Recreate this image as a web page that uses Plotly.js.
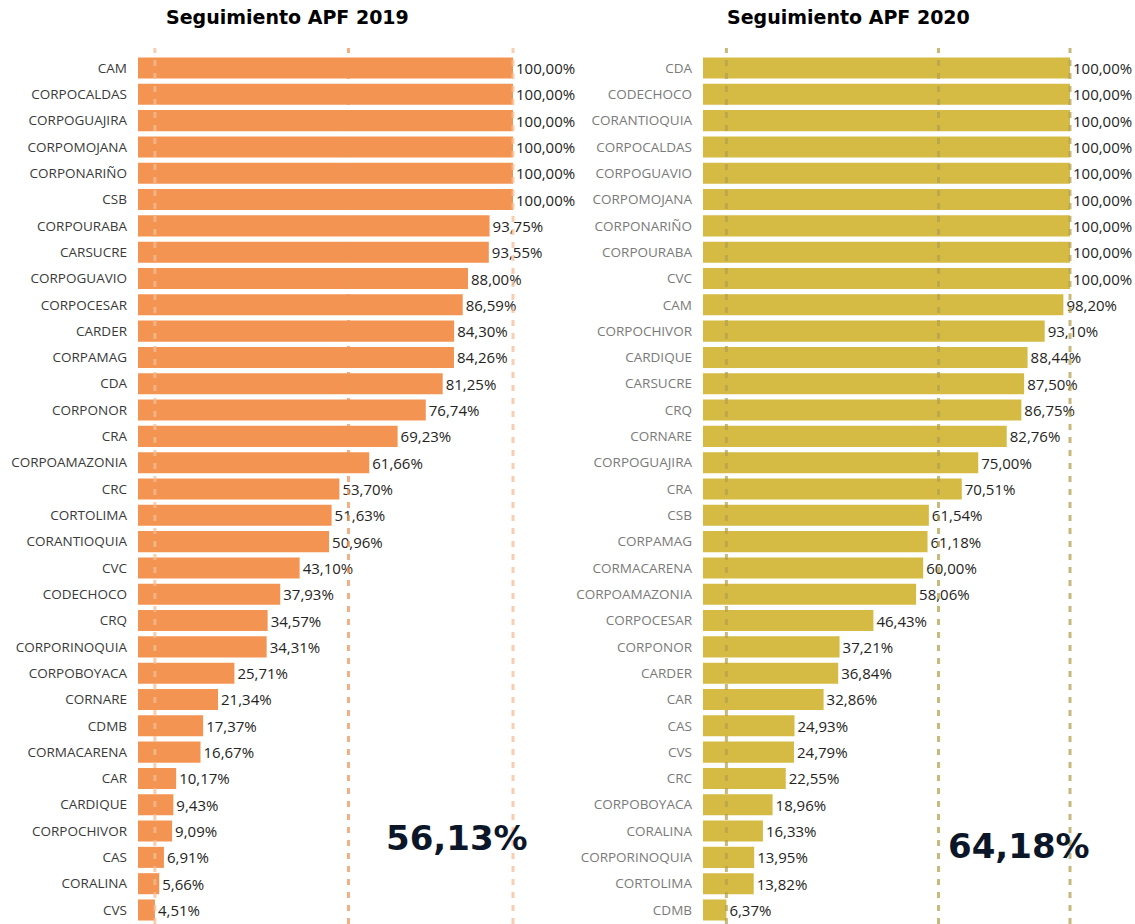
<!DOCTYPE html>
<html>
<head>
<meta charset="utf-8">
<script src="https://cdn.plot.ly/plotly-3.0.1.min.js"></script>
<style>html,body{margin:0;padding:0;background:#fff;}#chart{width:1135px;height:924px;}</style>
</head>
<body>
<div id="chart"></div>
<script>
const cats2019 = ["CAM","CORPOCALDAS","CORPOGUAJIRA","CORPOMOJANA","CORPONARIÑO","CSB","CORPOURABA","CARSUCRE","CORPOGUAVIO","CORPOCESAR","CARDER","CORPAMAG","CDA","CORPONOR","CRA","CORPOAMAZONIA","CRC","CORTOLIMA","CORANTIOQUIA","CVC","CODECHOCO","CRQ","CORPORINOQUIA","CORPOBOYACA","CORNARE","CDMB","CORMACARENA","CAR","CARDIQUE","CORPOCHIVOR","CAS","CORALINA","CVS"];
const vals2019 = [100,100,100,100,100,100,93.75,93.55,88.00,86.59,84.30,84.26,81.25,76.74,69.23,61.66,53.70,51.63,50.96,43.10,37.93,34.57,34.31,25.71,21.34,17.37,16.67,10.17,9.43,9.09,6.91,5.66,4.51];
const cats2020 = ["CDA","CODECHOCO","CORANTIOQUIA","CORPOCALDAS","CORPOGUAVIO","CORPOMOJANA","CORPONARIÑO","CORPOURABA","CVC","CAM","CORPOCHIVOR","CARDIQUE","CARSUCRE","CRQ","CORNARE","CORPOGUAJIRA","CRA","CSB","CORPAMAG","CORMACARENA","CORPOAMAZONIA","CORPOCESAR","CORPONOR","CARDER","CAR","CAS","CVS","CRC","CORPOBOYACA","CORALINA","CORPORINOQUIA","CORTOLIMA","CDMB"];
const vals2020 = [100,100,100,100,100,100,100,100,100,98.20,93.10,88.44,87.50,86.75,82.76,75.00,70.51,61.54,61.18,60.00,58.06,46.43,37.21,36.84,32.86,24.93,24.79,22.55,18.96,16.33,13.95,13.82,6.37];
const avg2019 = 56.13, avg2020 = 64.18;
const titles = ["Seguimiento APF 2019","Seguimiento APF 2020"];

const fmt = v => v.toFixed(2).replace('.', ',') + '%';
const W = 1135, H = 924;
const plotTop = 48;
const rowPx = 26.3;
const firstRowY = 68;
const yTop = -(firstRowY - plotTop) / rowPx;
const yBot = 32 + (H - 910) / rowPx;

const valueFont = {family: "Open Sans, Segoe UI, sans-serif", size: 15, color: "#252423"};
const catFontFamily = "Open Sans, Segoe UI, sans-serif";

const traces = [
  {type:'bar', orientation:'h', x: vals2019, y: cats2019, xaxis:'x', yaxis:'y',
   marker:{color:'#F39452'}, text: vals2019.map(fmt), textposition:'outside',
   textfont: valueFont, cliponaxis:false, hoverinfo:'x+y'},
  {type:'bar', orientation:'h', x: vals2020, y: cats2020, xaxis:'x2', yaxis:'y2',
   marker:{color:'#D5BB43'}, text: vals2020.map(fmt), textposition:'outside',
   textfont: valueFont, cliponaxis:false, hoverinfo:'x+y'}
];

const yDomTop = 1 - plotTop / H;
const leftStart = 138, left100 = 513, leftEnd = 560;
const rightStart = 703, right100 = 1070, rightEnd = 1135;

function vline(xref, xv, color, width) {
  return {type:'line', xref:xref, yref:'paper', x0:xv, x1:xv, y0:0, y1:yDomTop,
          line:{color:color, width:width, dash:'6px,7px'}, layer:'above'};
}
const min2019 = Math.min(...vals2019), max2019 = Math.max(...vals2019);
const min2020 = Math.min(...vals2020), max2020 = Math.max(...vals2020);

const titleFont = {family:"DejaVu Sans, Arial, sans-serif", size:19, color:'#000'};
const bigFont = {family:"DejaVu Sans, Arial, sans-serif", size:34, color:'#0B1628'};

const layout = {
  width: W, height: H,
  margin:{l:0, r:0, t:0, b:0},
  paper_bgcolor:'#fff', plot_bgcolor:'rgba(0,0,0,0)',
  showlegend:false,
  bargap: 0.2,
  xaxis:{domain:[leftStart/W, leftEnd/W], range:[0, (leftEnd-leftStart)/(left100-leftStart)*100],
         showgrid:false, zeroline:false, showticklabels:false, fixedrange:true},
  yaxis:{domain:[0, yDomTop], range:[yBot, yTop], type:'category', anchor:'x',
         showgrid:false, zeroline:false, ticks:'', ticklabelstandoff:10,
         tickfont:{family:catFontFamily, size:13.5, color:'#3a3a3a'}, automargin:false},
  xaxis2:{domain:[rightStart/W, 1], range:[0, (rightEnd-rightStart)/(right100-rightStart)*100],
         showgrid:false, zeroline:false, showticklabels:false, fixedrange:true, anchor:'y2'},
  yaxis2:{domain:[0, yDomTop], range:[yBot, yTop], type:'category', anchor:'x2',
         showgrid:false, zeroline:false, ticks:'', ticklabelstandoff:10,
         tickfont:{family:catFontFamily, size:13.5, color:'#7a7a7a'}, automargin:false},
  shapes:[
    vline('x', min2019, 'rgba(246,190,150,0.75)', 3),
    vline('x', avg2019, 'rgba(240,150,90,0.75)', 3),
    vline('x', max2019, 'rgba(246,190,150,0.75)', 3),
    vline('x2', min2020, 'rgba(180,160,80,0.75)', 3),
    vline('x2', avg2020, 'rgba(180,160,80,0.75)', 3),
    vline('x2', max2020, 'rgba(180,160,80,0.75)', 3)
  ],
  annotations:[
    {text:'<b>'+titles[0]+'</b>', xref:'paper', yref:'paper', x:287/W, y:1-17/H,
     showarrow:false, xanchor:'center', yanchor:'middle', font:titleFont},
    {text:'<b>'+titles[1]+'</b>', xref:'paper', yref:'paper', x:848/W, y:1-17/H,
     showarrow:false, xanchor:'center', yanchor:'middle', font:titleFont},
    {text:'<b>'+fmt(avg2019)+'</b>', xref:'paper', yref:'paper', x:457/W, y:1-838/H,
     showarrow:false, xanchor:'center', yanchor:'middle', font:bigFont},
    {text:'<b>'+fmt(avg2020)+'</b>', xref:'paper', yref:'paper', x:1019/W, y:1-846/H,
     showarrow:false, xanchor:'center', yanchor:'middle', font:bigFont}
  ]
};

Plotly.newPlot('chart', traces, layout, {displayModeBar:false, staticPlot:true});
</script>
</body>
</html>
